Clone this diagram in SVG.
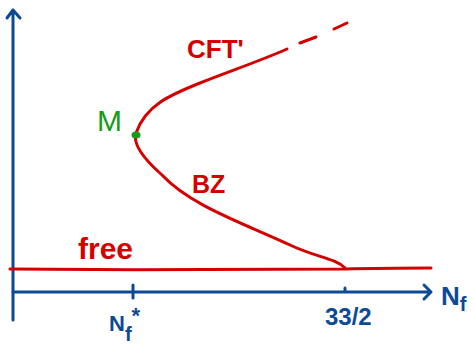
<svg xmlns="http://www.w3.org/2000/svg" width="474" height="348" viewBox="0 0 474 348">
<style>
.ax{stroke:#0c4a96;stroke-width:3;fill:none;stroke-linecap:round;stroke-linejoin:round}
.rd{stroke:#d40000;stroke-width:3;fill:none;stroke-linecap:round;stroke-linejoin:round}
.tb{fill:#0c4a96;font-family:"Liberation Sans",sans-serif;font-weight:bold}
.tr{fill:#d40000;font-family:"Liberation Sans",sans-serif}
</style>
<rect width="474" height="348" fill="#fff"/>
<g id="axes">
<path class="ax" d="M13,320 L13,10 M7,18 L13,10 L20,18"/>
<path class="ax" d="M13,292 L431,292 M424,285 L431,292 L424,299"/>
<path class="ax" d="M133,285 L133,298"/>
<path class="ax" d="M345,288 L345,291"/>
</g>
<g id="connectors">
<path class="rd" d="M10,269 C120,270 250,270 345,269 C380,268 410,268 431,268"/>
<path class="rd" d="M345,268 C335,258 315,257 290,245 C240,222 190,205 162,175 C145,160 132,145 136,133 C146,105 170,95 200,83 C230,71 260,61 287,49"/>
<path class="rd" d="M300,43 L316,37 M334,29 L347,23"/>
</g>
<g id="M">
<ellipse cx="136" cy="135" rx="4.5" ry="3.5" fill="#1a9a1a"/>
<text x="97" y="131" font-family="Liberation Sans,sans-serif" font-size="30" fill="#1a9a1a">M</text>
</g>
<g id="labels">
<text class="tr" x="187" y="58" font-size="26" font-weight="bold">CFT'</text>
<text class="tr" x="192" y="193" font-size="25" font-weight="bold">BZ</text>
<text class="tr" x="78" y="259" font-size="30" font-weight="bold">free</text>
<text class="tb" x="441" y="305" font-size="26">N<tspan font-size="20" dy="6">f</tspan></text>
<text class="tb" x="109" y="331" font-size="22">N<tspan font-size="20" dy="10">f</tspan><tspan font-size="22" dy="-18">*</tspan></text>
<text class="tb" x="325" y="325" font-size="24" font-weight="normal">33/2</text>
</g>
</svg>
